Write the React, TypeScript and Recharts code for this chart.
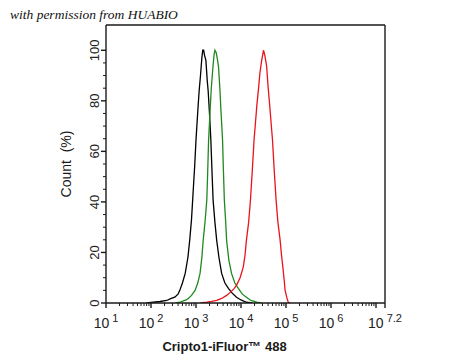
import React from 'react';
import { LineChart, Line, XAxis, YAxis, ReferenceLine } from 'recharts';

// x values are log10(fluorescence), y values are Count (%)
const blackLog = [1.9, 2.05, 2.2, 2.35, 2.45, 2.53, 2.6, 2.64, 2.7, 2.76, 2.82, 2.86, 2.9, 2.93, 2.97, 3.0, 3.04, 3.07, 3.1, 3.13, 3.15, 3.17, 3.19, 3.22, 3.25, 3.27, 3.3, 3.33, 3.36, 3.38, 3.42, 3.46, 3.51, 3.57, 3.64, 3.72, 3.8, 3.9, 4.0, 4.12, 4.25];
const blackCount = [0, 0.3, 0.6, 1, 1.8, 2.3, 3.5, 5, 8, 11.7, 18, 24.8, 33, 42, 54, 64.5, 76, 84, 90, 97, 100, 100, 98, 96, 88, 84, 75, 64.5, 50, 40.7, 32, 24.8, 18, 11.7, 8, 5.8, 4, 2.3, 1.2, 0.3, 0];

const greenLog = [2.55, 2.64, 2.72, 2.78, 2.83, 2.9, 2.98, 3.04, 3.09, 3.13, 3.16, 3.2, 3.24, 3.26, 3.28, 3.31, 3.34, 3.37, 3.4, 3.42, 3.45, 3.48, 3.5, 3.53, 3.55, 3.59, 3.61, 3.63, 3.66, 3.68, 3.73, 3.79, 3.86, 3.94, 4.03, 4.12, 4.22, 4.35, 4.45];
const greenCount = [0, 0.3, 0.8, 1.2, 1.8, 3, 5, 8, 11.7, 18, 24.8, 32, 40.7, 52, 64.5, 75, 85, 92, 98, 100, 99, 96, 93.6, 85, 77.7, 64.5, 52, 40.7, 32, 24.8, 17, 11.7, 8, 5.8, 3.5, 2.3, 1, 0.3, 0];

const redLog = [3.1, 3.24, 3.35, 3.46, 3.57, 3.68, 3.78, 3.85, 3.9, 3.98, 4.05, 4.09, 4.12, 4.17, 4.21, 4.25, 4.29, 4.32, 4.35, 4.39, 4.42, 4.46, 4.5, 4.53, 4.57, 4.6, 4.64, 4.67, 4.7, 4.74, 4.78, 4.82, 4.87, 4.9, 4.93, 4.96, 4.98, 5.02, 5.05, 5.1];
const redCount = [0, 0.3, 0.6, 1, 1.8, 3, 4.5, 5.8, 7, 10, 14.2, 19, 24.8, 32, 40.7, 52, 64.5, 71, 77.7, 85, 91, 96, 100, 98, 93.6, 86, 77.7, 71, 64.5, 52, 40.7, 32, 24.8, 19, 14.2, 9, 5, 2, 0.3, 0];

const xMajorExponents = [1, 2, 3, 4, 5, 6, 7, 7.2];
const xMajorLabels = ['1', '2', '3', '4', '5', '6', '', '7.2'];
const yTicks = [0, 5, 10, 15, 20, 25, 30, 35, 40, 45, 50, 55, 60, 65, 70, 75, 80, 85, 90, 95, 100];
const yMajorTicks = [0, 20, 40, 60, 80, 100];
const yMajorLabels = ['0', '20', '40', '60', '80', '100'];

const xAxisTitle = 'Cripto1-iFluor\u2122 488';
const yAxisTitle = 'Count  (%)';
const watermark = 'with permission from HUABIO';

const toPoints = (xs: number[], ys: number[]) => xs.map((x, i) => ({ x, y: ys[i] }));
const blackData = toPoints(blackLog, blackCount);
const greenData = toPoints(greenLog, greenCount);
const redData = toPoints(redLog, redCount);

const minorXTicks: number[] = [];
for (let n = 1; n <= 6; n++) {
  for (let k = 2; k <= 9; k++) minorXTicks.push(n + Math.log10(k));
}
const xTicks = [...xMajorExponents, ...minorXTicks].sort((a, b) => a - b);

const AXIS = '#1a1a1a';
const FONT = '"Liberation Sans", Arial, sans-serif';

const XTick = (props: any) => {
  const { x, y, payload } = props;
  const v = payload.value;
  const mi = xMajorExponents.findIndex((m) => Math.abs(m - v) < 1e-6);
  if (mi < 0) {
    return <line x1={x} x2={x} y1={y} y2={y + 3} stroke={AXIS} strokeWidth={1} />;
  }
  const lab = xMajorLabels[mi];
  return (
    <g>
      <line x1={x} x2={x} y1={y} y2={y + 5} stroke={AXIS} strokeWidth={1.4} />
      {lab ? (
        <text x={x} y={y + 25} textAnchor="middle" fontSize={14} fill="#222" fontFamily={FONT}>
          <tspan>10</tspan>
          <tspan dx={3} dy={-6} fontSize={11}>{lab}</tspan>
        </text>
      ) : null}
    </g>
  );
};

const YTick = (props: any) => {
  const { x, y, payload } = props;
  const v = payload.value;
  const mi = yMajorTicks.indexOf(v);
  if (mi < 0) {
    return <line x1={x - 3} x2={x} y1={y} y2={y} stroke={AXIS} strokeWidth={1} />;
  }
  const tx = x - 7;
  return (
    <g>
      <line x1={x - 5} x2={x} y1={y} y2={y} stroke={AXIS} strokeWidth={1.4} />
      <text x={tx} y={y} transform={`rotate(-90 ${tx} ${y})`} textAnchor="middle" fontSize={13} fill="#222" fontFamily={FONT}>
        {yMajorLabels[mi]}
      </text>
    </g>
  );
};

const XTitle = (props: any) => {
  const vb = props.viewBox || { x: 106, y: 303, width: 279, height: 50 };
  const cx = vb.x + vb.width / 2 - 21;
  return (
    <text x={cx} y={vb.y + 48} textAnchor="middle" fontSize={13} fontWeight={600} fill="#1a1a1a" fontFamily={FONT}>
      {xAxisTitle}
    </text>
  );
};

const YTitle = (props: any) => {
  const vb = props.viewBox || { x: 46, y: 25, width: 60, height: 278 };
  const tx = vb.x + 25;
  const ty = vb.y + vb.height / 2;
  return (
    <text x={tx} y={ty} transform={`rotate(-90 ${tx} ${ty})`} textAnchor="middle" fontSize={14} fill="#1a1a1a" fontFamily={FONT} style={{ whiteSpace: 'pre' }}>
      {yAxisTitle}
    </text>
  );
};

export default function App() {
  return (
    <div style={{ position: 'absolute', left: 0, top: 0, width: 450, height: 360, background: '#fff' }}>
      <div
        style={{
          position: 'absolute',
          left: 10,
          top: 7,
          fontFamily: '"Liberation Serif", serif',
          fontStyle: 'italic',
          fontSize: 13.5,
          color: '#111',
          whiteSpace: 'nowrap',
        }}
      >
        {watermark}
      </div>
      <LineChart width={450} height={360} data={blackData} margin={{ top: 25, right: 65, bottom: 7, left: 46 }}>
        <XAxis
          type="number"
          dataKey="x"
          domain={[1, 7.2]}
          ticks={xTicks}
          interval={0}
          tickSize={0}
          tickMargin={0}
          tickLine={false}
          tick={<XTick />}
          axisLine={{ stroke: AXIS, strokeWidth: 1.4 }}
          height={50}
          allowDataOverflow
          label={<XTitle />}
        />
        <YAxis
          type="number"
          domain={[0, 110]}
          ticks={yTicks}
          interval={0}
          tickSize={0}
          tickMargin={0}
          tickLine={false}
          tick={<YTick />}
          axisLine={{ stroke: AXIS, strokeWidth: 1.4 }}
          width={60}
          allowDataOverflow
          label={<YTitle />}
        />
        <ReferenceLine y={110} stroke={AXIS} strokeWidth={1.4} />
        <ReferenceLine x={7.2} stroke={AXIS} strokeWidth={1.4} />
        <Line data={blackData} dataKey="y" type="linear" stroke="#000000" strokeWidth={1.3} dot={false} isAnimationActive={false} />
        <Line data={greenData} dataKey="y" type="linear" stroke="#1e8a1e" strokeWidth={1.3} dot={false} isAnimationActive={false} />
        <Line data={redData} dataKey="y" type="linear" stroke="#e8141c" strokeWidth={1.3} dot={false} isAnimationActive={false} />
      </LineChart>
    </div>
  );
}
